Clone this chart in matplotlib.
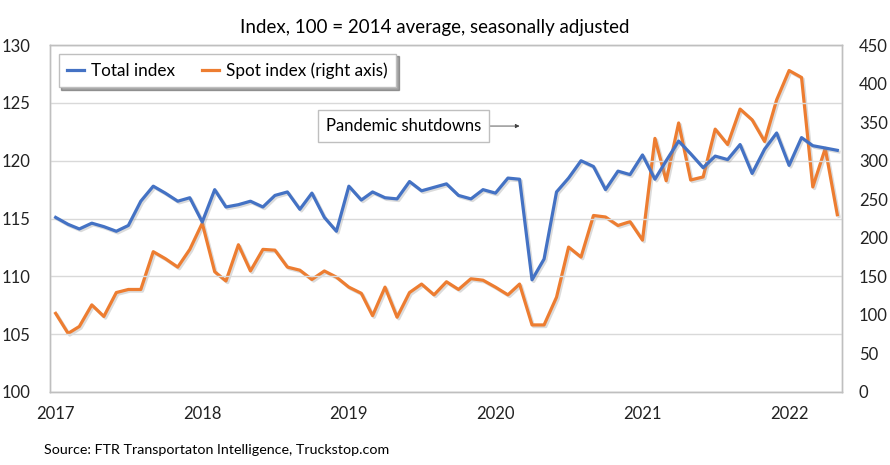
import matplotlib
matplotlib.use("Agg")
import matplotlib.pyplot as plt
import matplotlib.patheffects as pe
import pandas as pd

plt.rcParams['font.family'] = ['Lato', 'DejaVu Sans']

# Monthly data, Jan 2017 - May 2022
months = pd.date_range("2017-01-01", periods=65, freq="MS")

total_index = [
    115.1, 114.5, 114.1, 114.6, 114.3, 113.9, 114.4, 116.5, 117.8, 117.2, 116.5, 116.8,
    114.7, 117.5, 116.0, 116.2, 116.5, 116.0, 117.0, 117.3, 115.8, 117.2, 115.1, 113.9,
    117.8, 116.6, 117.3, 116.8, 116.7, 118.2, 117.4, 117.7, 118.0, 117.0, 116.7, 117.5,
    117.2, 118.5, 118.4, 109.7, 111.5, 117.3, 118.5, 120.0, 119.5, 117.5, 119.1, 118.8,
    120.5, 118.4, 120.0, 121.7, 120.6, 119.4, 120.4, 120.1, 121.4, 118.9, 121.0, 122.4,
    119.6, 122.0, 121.3, 121.1, 120.9,
]

spot_index = [
    102, 76, 85, 113, 98, 129, 133, 133, 182, 173, 162, 185,
    219, 156, 144, 191, 157, 185, 184, 162, 158, 146, 157, 149,
    136, 128, 99, 136, 97, 129, 140, 126, 143, 133, 147, 145,
    136, 126, 140, 87, 87, 123, 188, 175, 229, 227, 216, 221,
    197, 329, 274, 349, 275, 279, 341, 321, 367, 353, 325, 379,
    417, 408, 266, 316, 230,
]

year_ticks = pd.date_range("2017-01-01", periods=6, freq="YS")
year_labels = ["2017", "2018", "2019", "2020", "2021", "2022"]

blue = "#4472C4"
orange = "#ED7D31"
shadow = [pe.SimpleLineShadow(offset=(1.2, -1.2), shadow_color="#999999", alpha=0.35),
          pe.Normal()]

fig = plt.figure(figsize=(8.9, 4.65), dpi=100)
ax = fig.add_axes([0.0562, 0.157, 0.890, 0.746])
ax2 = ax.twinx()

l1, = ax.plot(months, total_index, color=blue, lw=2.3, path_effects=shadow, zorder=3)
l2, = ax2.plot(months, spot_index, color=orange, lw=2.3, path_effects=shadow, zorder=3)
ax.set_zorder(ax2.get_zorder() + 1)
ax.patch.set_visible(False)

ax.set_ylim(100, 130)
ax.set_yticks(range(100, 131, 5))
ax2.set_ylim(0, 450)
ax2.set_yticks(range(0, 451, 50))
ax.set_xlim(months[0] - pd.Timedelta(days=14), months[-1] + pd.Timedelta(days=12))
ax.set_xticks(year_ticks)
ax.set_xticklabels(year_labels)

ax.grid(axis='y', color="#d9d9d9", lw=1)
ax.set_axisbelow(True)
for a in (ax, ax2):
    for s in a.spines.values():
        s.set_color("#bfbfbf")
        s.set_linewidth(1)
    a.tick_params(length=0, labelsize=12, colors="#222222")
ax.tick_params(axis='y', pad=14)
ax2.tick_params(axis='y', pad=12)
ax.tick_params(axis='x', pad=10)

leg = ax.legend([l1, l2], ["Total index", "Spot index (right axis)"], loc="upper left",
                ncol=2, fontsize=12.3, handlelength=1.0, handletextpad=0.4,
                columnspacing=1.6, fancybox=False, shadow=True, framealpha=1,
                borderpad=0.5, bbox_to_anchor=(0.0, 1.0))
leg.get_frame().set_edgecolor("#bfbfbf")
for h in leg.legend_handles:
    h.set_path_effects([])

ax.annotate("Pandemic shutdowns", xy=(pd.Timestamp("2020-03-01"), 123.0),
            xytext=(pd.Timestamp("2019-05-17"), 123.0), fontsize=12, va="center", ha="center",
            bbox=dict(boxstyle="square,pad=0.5", fc="white", ec="#bfbfbf", lw=1),
            arrowprops=dict(arrowstyle="-|>", color="#404040", lw=0.6, mutation_scale=6,
                            shrinkA=0, shrinkB=0))

fig.text(0.489, 0.94, "Index, 100 = 2014 average, seasonally adjusted", ha="center",
         va="center", fontsize=13.5)
fig.text(0.05, 0.032, "Source: FTR Transportaton Intelligence, Truckstop.com", ha="left",
         va="center", fontsize=10.3)

fig.savefig("out.png", dpi=100)
